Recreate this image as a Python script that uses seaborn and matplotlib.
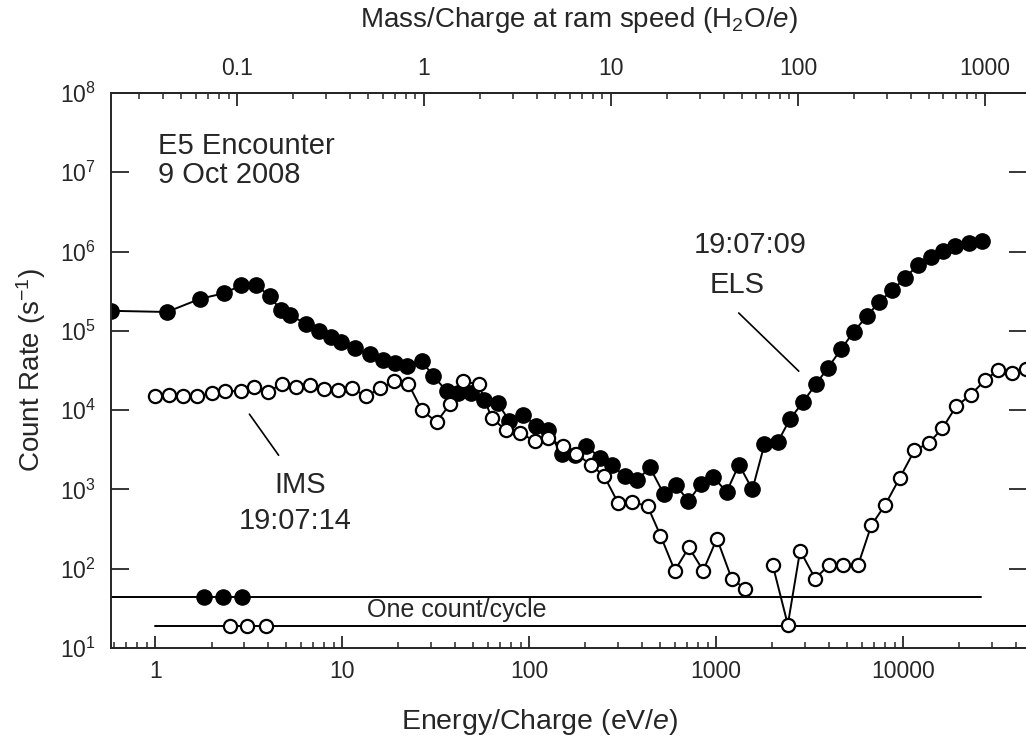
import numpy as np
import pandas as pd
import seaborn as sns
import matplotlib.pyplot as plt
from matplotlib.ticker import LogLocator, FixedLocator, FuncFormatter, NullFormatter

# ELS spectrum, 19:07:09 (filled circles)
els_energy = [0.58, 1.155, 1.74, 2.32, 2.89, 3.45, 4.1, 4.68, 5.25, 6.4, 7.55, 8.75, 9.9,
              11.7, 14.0, 16.5, 19.2, 22.2, 26.6, 30.7, 36.2, 41.8, 48.9, 57.6, 68, 78.4,
              92.5, 109, 126, 149, 175, 202, 238, 278, 324, 379, 442, 525, 609, 710, 830,
              967, 1138, 1325, 1563, 1813, 2137, 2488, 2911, 3429, 3963, 4654, 5444, 6412,
              7464, 8730, 10290, 11990, 14130, 16370, 19060, 22490, 26300]
els_rate = [1.79e5, 1.73e5, 2.54e5, 2.97e5, 3.75e5, 3.8e5, 2.75e5, 1.83e5, 1.58e5, 1.23e5,
            1.0e5, 8.4e4, 7.2e4, 6.0e4, 5.05e4, 4.24e4, 3.9e4, 3.6e4, 4.16e4, 2.7e4, 1.74e4,
            1.65e4, 1.63e4, 1.33e4, 1.22e4, 7.3e3, 8.8e3, 6.3e3, 5.6e3, 2.76e3, 2.75e3, 3.58e3,
            2.5e3, 2.02e3, 1.47e3, 1.31e3, 1.9e3, 877, 1.15e3, 710, 1.17e3, 1.43e3, 930,
            2.06e3, 998, 3.69e3, 3.98e3, 7.76e3, 1.26e4, 2.15e4, 3.42e4, 5.84e4, 9.75e4,
            1.54e5, 2.33e5, 3.24e5, 4.68e5, 6.77e5, 8.55e5, 1.02e6, 1.18e6, 1.29e6, 1.36e6]

# IMS spectrum, 19:07:14 (open circles), two pieces with a gap between them
ims_energy = [1.0, 1.19, 1.41, 1.67, 2.0, 2.37, 2.86, 3.37, 4.02, 4.74, 5.68, 6.7, 7.99,
              9.54, 11.3, 13.4, 16.0, 19.0, 22.6, 26.7, 32.0, 37.8, 44.1, 53.7, 63, 75.3,
              89.8, 107, 126, 151, 179, 213, 252, 299, 356, 430, 504, 601, 715, 853, 1010,
              1211, 1428,
              2010, 2418, 2813, 3388, 3993, 4760, 5737, 6766, 8040, 9600, 11500, 13740,
              16200, 19240, 22960, 27300, 32200, 38400, 45300]
ims_rate = [1.5e4, 1.53e4, 1.5e4, 1.5e4, 1.63e4, 1.74e4, 1.74e4, 1.95e4, 1.69e4, 2.15e4,
            1.95e4, 2.05e4, 1.86e4, 1.77e4, 1.88e4, 1.5e4, 1.88e4, 2.32e4, 2.15e4, 9.9e3,
            7.1e3, 1.2e4, 2.32e4, 2.11e4, 8.0e3, 5.54e3, 5.17e3, 4.06e3, 4.47e3, 3.5e3, 2.8e3,
            2.06e3, 1.47e3, 676, 695, 614, 262, 94.6, 186, 94.6, 240, 75, 56,
            110, 19.7, 169, 75, 110, 110, 110, 353, 645, 1400, 3100, 3860, 5870, 1.12e4,
            1.55e4, 2.37e4, 3.2e4, 2.96e4, 3.27e4]
ims_piece = [0] * 43 + [1] * 19

# one count per cycle levels and their key markers
els_floor_energy = [0.58, 26000]
els_floor_rate = 43.5
ims_floor_energy = [1.0, 46000]
ims_floor_rate = 18.7
els_key_energy = [1.82, 2.31, 2.92]
ims_key_energy = [2.52, 3.1, 3.92]

energy_ticks = [1, 10, 100, 1000, 10000]
mass_ticks = [0.1, 1, 10, 100, 1000]
ram_factor = 27.4  # eV per H2O mass unit at ram speed

els = pd.DataFrame({"energy": els_energy, "rate": els_rate})
ims = pd.DataFrame({"energy": ims_energy, "rate": ims_rate, "piece": ims_piece})

sns.set_style("ticks")
plt.rcParams["font.family"] = ["Liberation Sans", "DejaVu Sans"]
plt.rcParams["mathtext.fontset"] = "custom"
plt.rcParams["mathtext.rm"] = "Liberation Sans"
plt.rcParams["mathtext.it"] = "Liberation Sans:italic"
plt.rcParams["axes.linewidth"] = 1.4

fig = plt.figure(figsize=(10.26, 7.42), dpi=100)
ax = fig.add_axes([111 / 1026, 94 / 742, 916 / 1026, 555 / 742])
ax.set_xscale("log")
ax.set_yscale("log")

line_kw = dict(color="black", linewidth=1.4)
sns.lineplot(x=els_floor_energy, y=[els_floor_rate] * 2, ax=ax, **line_kw)
sns.lineplot(x=ims_floor_energy, y=[ims_floor_rate] * 2, ax=ax, **line_kw)

sns.lineplot(data=els, x="energy", y="rate", ax=ax, estimator=None, sort=False,
             marker="o", markersize=11, markerfacecolor="black",
             markeredgecolor="black", markeredgewidth=1, **line_kw)
sns.lineplot(data=ims, x="energy", y="rate", units="piece", ax=ax, estimator=None,
             sort=False, marker="o", markersize=9.5, markerfacecolor="white",
             markeredgecolor="black", markeredgewidth=1.6, **line_kw)

sns.scatterplot(x=els_key_energy, y=[els_floor_rate] * 3, ax=ax, s=121,
                color="black", edgecolor="black", zorder=5)
sns.scatterplot(x=ims_key_energy, y=[ims_floor_rate] * 3, ax=ax, s=90,
                color="white", edgecolor="black", linewidth=1.6, zorder=5)

ax.set_xlim(0.58, 46000)
ax.set_ylim(10, 1e8)

ax.xaxis.set_major_locator(FixedLocator(energy_ticks))
ax.xaxis.set_minor_locator(LogLocator(base=10, subs=np.arange(2, 10)))
ax.xaxis.set_major_formatter(FuncFormatter(lambda v, p: f"{v:g}"))
ax.xaxis.set_minor_formatter(NullFormatter())
ax.yaxis.set_major_locator(LogLocator(base=10, numticks=10))
ax.yaxis.set_minor_locator(LogLocator(base=10, subs=[]))

ax.tick_params(axis="x", which="major", direction="in", length=9, width=1.3,
               labelsize=16.5, pad=9, top=False)
ax.tick_params(axis="x", which="minor", direction="in", length=4, width=1.1, top=False)
ax.tick_params(axis="y", which="major", direction="in", length=13, width=1.3,
               labelsize=16.5, pad=11, right=True)
ax.tick_params(axis="y", which="minor", left=False, right=False)

secax = ax.secondary_xaxis("top", functions=(lambda e: e / ram_factor,
                                             lambda m: m * ram_factor))
secax.xaxis.set_major_locator(FixedLocator(mass_ticks))
secax.xaxis.set_minor_locator(LogLocator(base=10, subs=np.arange(2, 10)))
secax.xaxis.set_major_formatter(FuncFormatter(lambda v, p: f"{v:g}"))
secax.xaxis.set_minor_formatter(NullFormatter())
secax.tick_params(which="major", direction="in", length=9, width=1.3,
                  labelsize=16.5, pad=9)
secax.tick_params(which="minor", direction="in", length=4, width=1.1)
secax.set_xlabel("Mass/Charge at ram speed (H$_2$O/$e$)", fontsize=20, labelpad=22)
secax.xaxis.label.set_x(0.511)

ax.set_xlabel("Energy/Charge (eV/$e$)", fontsize=20.5, labelpad=17)
ax.xaxis.label.set_x(0.468)
ax.set_ylabel("Count Rate (s$^{-1}$)", fontsize=20, labelpad=8)

txt = dict(transform=ax.transAxes, fontsize=21, va="center")
ax.text(0.051, 0.905, "E5 Encounter", **txt)
ax.text(0.051, 0.852, "9 Oct 2008", **txt)
ax.text(0.698, 0.726, "19:07:09", ha="center", **txt)
ax.text(0.684, 0.654, "ELS", ha="center", **txt)
ax.text(0.206, 0.294, "IMS", ha="center", **txt)
ax.text(0.201, 0.229, "19:07:14", ha="center", **txt)
ax.text(0.378, 0.068, "One count/cycle", transform=ax.transAxes, fontsize=18,
        ha="center", va="center")

ax.plot([1321, 2768], [1.68e5, 3.1e4], color="black", linewidth=1.2)
ax.plot([3.19, 4.57], [8.9e3, 2.7e3], color="black", linewidth=1.2)

fig.savefig("out.png", dpi=100)
